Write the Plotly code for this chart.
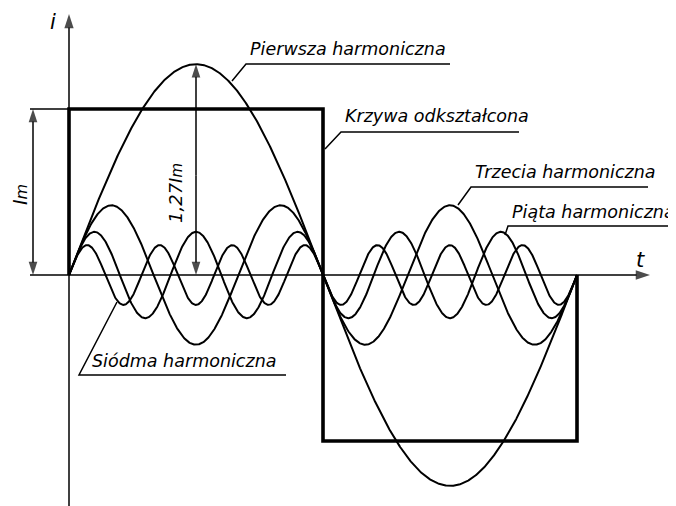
import numpy as np
import plotly.graph_objects as go

# harmoniczne przebiegu prostokatnego (amplituda w jednostkach Im)
orders = [1, 3, 5, 7]
amplitudes = [1.27, 0.42, 0.26, 0.18]
labels = ["Pierwsza harmoniczna", "Trzecia harmoniczna", "Piąta harmoniczna", "Siódma harmoniczna"]

# krzywa odksztalcona (prostokat), t w polokresach
square_t = [0, 0, 1, 1, 2, 2]
square_i = [0, 1, 1, -1, -1, 0]

W, H = 676, 506
OFF = 8            # margines strony (body) w przegladarce
X0, XS = 69 - OFF, 254   # piksel t=0, pikseli na polokres
Y0, YS = 275 - OFF, 166  # piksel i=0, pikseli na Im


def px(p):
    return (p - OFF - X0) / XS


def py(p):
    return (Y0 - (p - OFF)) / YS


FONT = dict(family="DejaVu Sans, Liberation Sans", size=17.5, color="black", style="italic")

fig = go.Figure()

t = np.linspace(0, 2, 1200)
for n, a, name in zip(orders, amplitudes, labels):
    fig.add_trace(go.Scatter(x=t, y=a * np.sin(n * np.pi * t), mode="lines", name=name,
                             line=dict(color="black", width=2), hoverinfo="skip"))

fig.add_trace(go.Scatter(x=square_t, y=square_i, mode="lines", name="Krzywa odkształcona",
                         line=dict(color="black", width=3.6), hoverinfo="skip"))

line = dict(color="black", width=1.5)
# linia pomocnicza Im
fig.add_shape(type="line", x0=px(30), x1=0, y0=1, y1=1, line=line)


def arrow(x0, y0, x1, y1, name, size=15):
    # strzalka od (x0, y0) do grotu w (x1, y1)
    fig.add_trace(go.Scatter(x=[x0, x1], y=[y0, y1], mode="lines+markers", hoverinfo="skip",
                             line=line, name=name,
                             marker=dict(symbol="arrow", angleref="previous", size=[0, size],
                                         color="black", line=dict(width=0))))


# osie
arrow(px(30), 0, px(650), 0, "t")
arrow(0, py(506), 0, py(14), "i")
# wymiary Im i 1,27Im
arrow(px(33), 0.5, px(33), 1, "Im", size=14)
arrow(px(33), 0.5, px(33), 0, "Im", size=14)
arrow(0.5, 0.6, 0.5, amplitudes[0], "1,27Im", size=14)
arrow(0.5, 0.6, 0.5, 0, "1,27Im", size=14)

# podpisy z podkresleniem i odnosnikiem: (tekst, x lewy, y srodek, koniec podkreslenia, y podkreslenia, punkt odnosnika)
callouts = [
    (labels[0], 248, 49, 450, 64, (232, 81)),
    ("Krzywa odkształcona", 343, 116, 519, 132, (325, 149)),
    (labels[1], 473, 172, 648, 187, (458, 205)),
    (labels[2], 510, 212, 676, 226, (505, 235)),
]
for text, xl, ym, xr, yu, (lx, ly) in callouts:
    fig.add_annotation(x=px(xl), y=py(ym), text=text, showarrow=False, xanchor="left",
                       yanchor="middle", font=FONT)
    fig.add_shape(type="path", path=f"M {px(lx)},{py(ly)} L {px(xl - 2)},{py(yu)} L {px(xr)},{py(yu)}",
                  line=line)

fig.add_annotation(x=px(90), y=py(361), text=labels[3], showarrow=False, xanchor="left",
                   yanchor="middle", font=FONT)
fig.add_shape(type="path", path=f"M {px(117)},{py(302)} L {px(79)},{py(375)} L {px(286)},{py(375)}",
              line=line)

fig.add_annotation(x=px(53), y=py(22), text="i", showarrow=False, font=dict(FONT, size=21))
fig.add_annotation(x=px(640), y=py(260), text="t", showarrow=False, font=dict(FONT, size=21))
fig.add_annotation(x=px(20), y=py(195), text="I<span style='font-size:16px'>m</span>",
                   showarrow=False, textangle=-90, font=dict(FONT, size=19))
fig.add_annotation(x=px(175), y=py(193), text="1,27I<span style='font-size:15px'>m</span>",
                   showarrow=False, textangle=-90, font=dict(FONT, size=18))

fig.update_layout(
    width=W, height=H, margin=dict(l=0, r=0, t=0, b=0),
    paper_bgcolor="white", plot_bgcolor="white", showlegend=False,
    xaxis=dict(range=[px(OFF), px(W + OFF)], visible=False, fixedrange=True),
    yaxis=dict(range=[py(H + OFF), py(OFF)], visible=False, fixedrange=True),
)

fig.write_html("out.html")
